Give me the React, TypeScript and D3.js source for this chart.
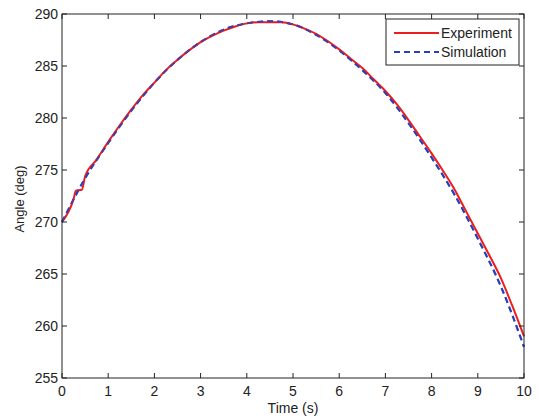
import React from "react";
import * as d3 from "d3";

const expTime = [0,0.25,0.3,0.43,0.5,0.75,1,1.25,1.5,1.75,2,2.25,2.5,2.75,3,3.25,3.5,3.75,4,4.25,4.5,4.75,5,5.25,5.5,5.75,6,6.25,6.5,6.75,7,7.25,7.5,7.75,8,8.25,8.5,8.75,9,9.25,9.5,9.75,10];
const expAngle = [270.0,272.2,273.0,273.1,274.4,276.0,277.7,279.3,280.8,282.2,283.4,284.6,285.6,286.5,287.3,287.9,288.4,288.8,289.1,289.2,289.2,289.2,289.0,288.6,288.1,287.4,286.6,285.7,284.8,283.7,282.6,281.3,279.8,278.2,276.6,274.9,273.1,271.0,268.9,266.8,264.6,261.9,259.0];
const simTime = [0,0.5,1,1.5,2,2.5,3,3.5,4,4.5,5,5.5,6,6.5,7,7.5,8,8.5,9,9.5,10];
const simAngle = [270.0,274.2,277.6,280.7,283.4,285.6,287.3,288.5,289.1,289.3,289.0,288.0,286.5,284.6,282.4,279.5,276.2,272.6,268.4,263.8,258.0];
const xTicks = [0,1,2,3,4,5,6,7,8,9,10];
const yTicks = [255,260,265,270,275,280,285,290];
const seriesNames = ["Experiment", "Simulation"];

const W = 539, H = 419;
const L = 62, R = 524, T = 14, B = 378;

export default function App() {
  const x = d3.scaleLinear().domain([0, 10]).range([L, R]);
  const y = d3.scaleLinear().domain([255, 290]).range([B, T]);
  const expLine = d3.line<number>().x((_, i) => x(expTime[i])).y((d) => y(d)).curve(d3.curveMonotoneX);
  const simLine = d3.line<number>().x((_, i) => x(simTime[i])).y((d) => y(d)).curve(d3.curveMonotoneX);
  const font = "'Liberation Sans', Arial, sans-serif";
  const red = "#ee1c1c";
  const blue = "#2440c0";
  const tk = 5;
  return (
    <svg width={W} height={H} style={{ position: "absolute", left: 0, top: 0, background: "#fff" }} fontFamily={font}>
      <rect x={0} y={0} width={W} height={H} fill="#fff" />
      <rect x={L} y={T} width={R - L} height={B - T} fill="#fff" />
      <path d={simLine(simAngle) || ""} fill="none" stroke={blue} strokeWidth={2} strokeDasharray="6,4" />
      <path d={expLine(expAngle) || ""} fill="none" stroke={red} strokeWidth={2} />
      <path d={simLine(simAngle) || ""} fill="none" stroke={blue} strokeWidth={2} strokeDasharray="6,4" opacity={0.7} />
      {xTicks.map((t) => (
        <g key={"x" + t}>
          <line x1={x(t)} x2={x(t)} y1={B} y2={B - tk} stroke="#222" />
          <line x1={x(t)} x2={x(t)} y1={T} y2={T + tk} stroke="#222" />
          <text x={x(t)} y={B + 18} fontSize={14} textAnchor="middle" fill="#222">{t}</text>
        </g>
      ))}
      {yTicks.map((v) => (
        <g key={"y" + v}>
          <line x1={L} x2={L + tk} y1={y(v)} y2={y(v)} stroke="#222" />
          <line x1={R} x2={R - tk} y1={y(v)} y2={y(v)} stroke="#222" />
          <text x={L - 4} y={y(v) + 5} fontSize={14} textAnchor="end" fill="#222">{v}</text>
        </g>
      ))}
      <rect x={L} y={T} width={R - L} height={B - T} fill="none" stroke="#222" strokeWidth={1} />
      <text x={(L + R) / 2} y={413} fontSize={14} textAnchor="middle" fill="#222">Time (s)</text>
      <text transform={`translate(24,${(T + B) / 2 + 3}) rotate(-90)`} fontSize={13} textAnchor="middle" fill="#222">Angle (deg)</text>
      <g>
        <rect x={386} y={19} width={133} height={46} fill="#fff" stroke="#222" />
        <line x1={394} x2={439} y1={33} y2={33} stroke={red} strokeWidth={2} />
        <text x={441} y={38} fontSize={14} fill="#222">{seriesNames[0]}</text>
        <line x1={394} x2={439} y1={52} y2={52} stroke={blue} strokeWidth={2} strokeDasharray="6,4" />
        <text x={441} y={57} fontSize={14} fill="#222">{seriesNames[1]}</text>
      </g>
    </svg>
  );
}
